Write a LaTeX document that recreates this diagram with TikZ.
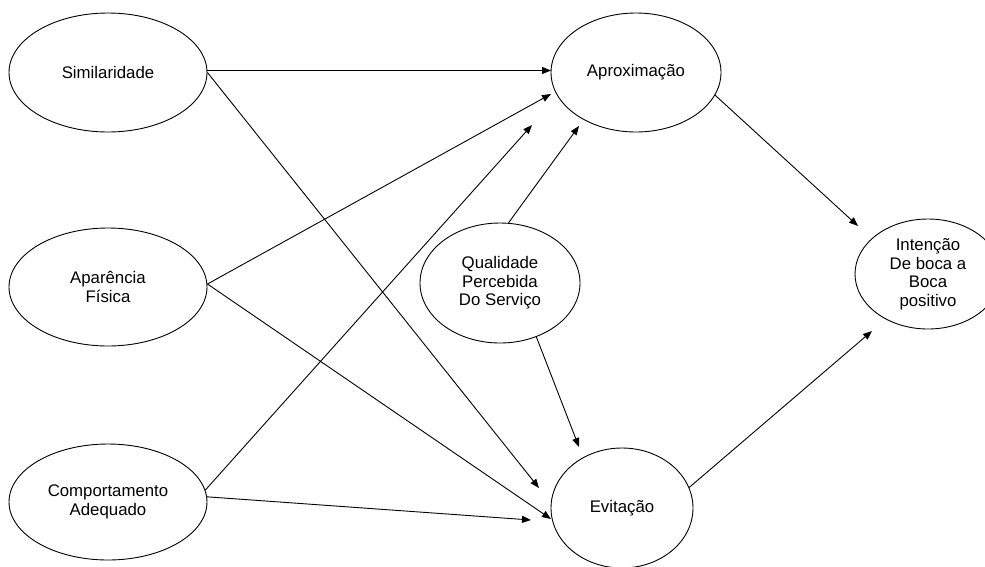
\documentclass[tikz,border=0pt]{standalone}
\usepackage{fontspec}
\setmainfont{Liberation Sans}
\usetikzlibrary{shapes.geometric,arrows.meta}
\begin{document}
\begin{tikzpicture}[x=1pt,y=-1pt,
  ell/.style={draw,ellipse,line width=0.9pt,inner sep=0pt,align=center,
    font=\fontsize{16.8}{18.5}\selectfont},
  arr/.style={line width=0.9pt,-{Triangle[length=9pt,width=7pt]}}]
\useasboundingbox (0,0) rectangle (985,566);
\node[ell,minimum width=198,minimum height=119] (sim) at (108,72.5) {Similaridade};
\node[ell,minimum width=198,minimum height=118] (apa) at (108,287) {Aparência\\Física};
\node[ell,minimum width=198,minimum height=116] (com) at (108,502) {Comportamento\\Adequado};
\node[ell,minimum width=170,minimum height=119] (apr) at (636,72.5) {Aproximação};
\node[ell,minimum width=160,minimum height=120] (qua) at (500,283) {Qualidade\\Percebida\\Do Serviço};
\node[ell,minimum width=142,minimum height=120] (evi) at (622,508) {Evitação};
\node[ell,minimum width=146,minimum height=110] (int) at (928,274) {Intenção\\De boca a\\Boca\\positivo};
\coordinate (t1) at (551,70.5);
\coordinate (t2) at (539,488);
\coordinate (t3) at (551,94);
\coordinate (t4) at (551,519);
\coordinate (t5) at (532,125);
\coordinate (t6) at (531,520);
\coordinate (t7) at (579,126);
\coordinate (t8) at (579,447);
\coordinate (t9) at (858,226);
\coordinate (t10) at (872,331);
\draw[arr] (sim.east) ++(0,-2) -- (t1);
\draw[arr] (sim.east) -- (t2);
\draw[arr] (apa.east) ++(0,-3) -- (t3);
\draw[arr] (apa.east) ++(0,-3) -- (t4);
\draw[arr] (com.7) -- (t5);
\draw[arr] (com.3) -- (t6);
\draw[arr] (qua.82) -- (t7);
\draw[arr] (qua.-56) -- (t8);
\draw[arr] (apr.-16) -- (t9);
\draw[arr] (evi.17) -- (t10);
\end{tikzpicture}
\end{document}
